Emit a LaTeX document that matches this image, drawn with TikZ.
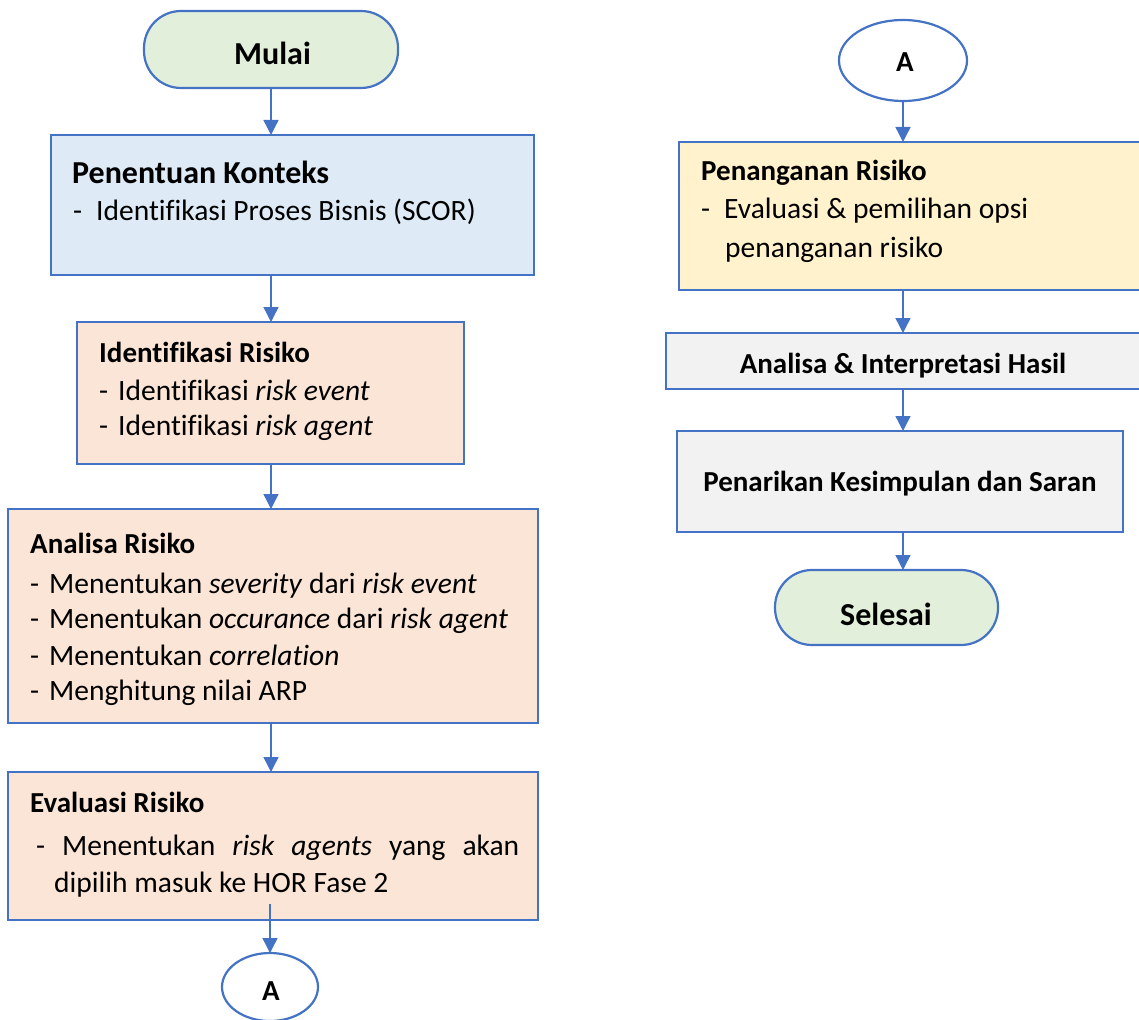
\documentclass[tikz,border=0pt]{standalone}
\usepackage{fontspec}
\setmainfont{Carlito}[Ligatures=CommonOff]
\usetikzlibrary{arrows.meta,shapes.geometric}
\definecolor{edge}{HTML}{4472C4}
\definecolor{fgreen}{HTML}{E2EFDA}
\definecolor{fblue}{HTML}{DEEBF7}
\definecolor{fpeach}{HTML}{FBE5D6}
\definecolor{fyellow}{HTML}{FFF2CC}
\definecolor{fgray}{HTML}{F2F2F2}

\begin{document}
\begin{tikzpicture}[x=1pt,y=-1pt,
  box/.style={draw=edge, line width=2.2pt, rectangle, inner sep=0pt, outer sep=0pt},
  term/.style={box, fill=fgreen, rounded corners=37pt},
  conn/.style={draw=edge, line width=2.2pt, ellipse, fill=white, inner sep=0pt, outer sep=0pt},
  arr/.style={draw=edge, line width=1.4pt, -{Triangle[width=15pt,length=15pt]}},
  txt/.style={anchor=base west, inner sep=0pt, font=\fontsize{29.5}{36}\selectfont},
  ttl/.style={txt, font=\fontsize{29}{36}\selectfont\bfseries},
  ctr/.style={anchor=base, inner sep=0pt, font=\fontsize{29}{36}\selectfont\bfseries},
  big/.style={anchor=base, inner sep=0pt, font=\fontsize{32}{38}\selectfont\bfseries}
]
\useasboundingbox (0,0) rectangle (1139,1019);

% ---- left column: shapes
\node[term, minimum width=254pt, minimum height=77pt] (mulai) at (271,49.5) {};
\node[box, fill=fblue, minimum width=483pt, minimum height=140pt] (pk) at (292.5,205) {};
\node[box, fill=fpeach, minimum width=387pt, minimum height=142pt] (ir) at (270.5,393) {};
\node[box, fill=fpeach, minimum width=530pt, minimum height=214pt] (ar) at (273,616) {};
\node[box, fill=fpeach, minimum width=530pt, minimum height=148pt] (ev) at (273,846) {};
\node[conn, minimum width=96pt, minimum height=68pt] (aL) at (270,987) {};

% ---- right column: shapes
\node[conn, minimum width=128pt, minimum height=81pt] (aR) at (903,60.5) {};
\node[box, fill=fyellow, minimum width=466pt, minimum height=148pt] (pr) at (912,216) {};
\node[box, fill=fgray, minimum width=475pt, minimum height=56pt] (ai) at (903.5,361) {};
\node[box, fill=fgray, minimum width=446pt, minimum height=101pt] (pks) at (900,481.5) {};
\node[term, minimum width=223pt, minimum height=75pt] (sl) at (886.5,607.5) {};

% ---- left column: texts
\node[big] (mulaiT) at (272.5,65) {Mulai};
\node[ttl, font=\fontsize{32}{38}\selectfont\bfseries] (pkT) at (72,183) {Penentuan Konteks};
\node[txt] (pk1) at (73,220) {\makebox[23pt][l]{-}Identifikasi Proses Bisnis (SCOR)};

\node[ttl] (irT) at (99,362) {Identifikasi Risiko};
\node[txt] (ir1) at (99,400) {\makebox[19pt][l]{-}Identifikasi \textit{risk event}};
\node[txt] (ir2) at (99,435) {\makebox[19pt][l]{-}Identifikasi \textit{risk agent}};

\node[ttl] (arT) at (30,553) {Analisa Risiko};
\node[txt] (ar1) at (30,593) {\makebox[19pt][l]{-}Menentukan \textit{severity} dari \textit{risk event}};
\node[txt] (ar2) at (30,628) {\makebox[19pt][l]{-}Menentukan \textit{occurance} dari \textit{risk agent}};
\node[txt] (ar3) at (30,665) {\makebox[19pt][l]{-}Menentukan \textit{correlation}};
\node[txt] (ar4) at (30,700) {\makebox[19pt][l]{-}Menghitung nilai ARP};

\node[ttl] (evT) at (30,812) {Evaluasi Risiko};
\node[txt] (ev1) at (36,855) {\makebox[483pt][s]{- Menentukan \textit{risk} \textit{agents} yang akan}};
\node[txt] (ev2) at (54,892) {dipilih masuk ke HOR Fase 2};

\node[ctr] (aLT) at (271,1000) {A};

% ---- right column: texts
\node[ctr] (aRT) at (905,72) {A};
\node[ttl] (prT) at (701,180) {Penanganan Risiko};
\node[txt] (pr1) at (701,218) {\makebox[23pt][l]{-}Evaluasi \& pemilihan opsi};
\node[txt] (pr2) at (725,257) {penanganan risiko};
\node[ctr] (aiT) at (903,373) {Analisa \& Interpretasi Hasil};
\node[ctr] (pksT) at (900,491) {Penarikan Kesimpulan dan Saran};
\node[big] (slT) at (886,625) {Selesai};

% ---- connectors
\draw[arr] (mulai.south) -- (mulai.south |- pk.north);
\draw[arr] (pk.south -| mulai) -- (ir.north -| mulai);
\draw[arr] (ir.south -| mulai) -- (ar.north -| mulai);
\draw[arr] (ar.south -| mulai) -- (ev.north -| mulai);
\coordinate (evout) at ([yshift=16pt]ev.south);
\draw[arr] (aL.north |- evout) -- (aL.north);

\draw[arr] (aR.south) -- (aR.south |- pr.north);
\draw[arr] (pr.south -| aR) -- (ai.north -| aR);
\draw[arr] (ai.south -| aR) -- (pks.north -| aR);
\draw[arr] (pks.south -| aR) -- (sl.north -| aR);
\end{tikzpicture}
\end{document}
